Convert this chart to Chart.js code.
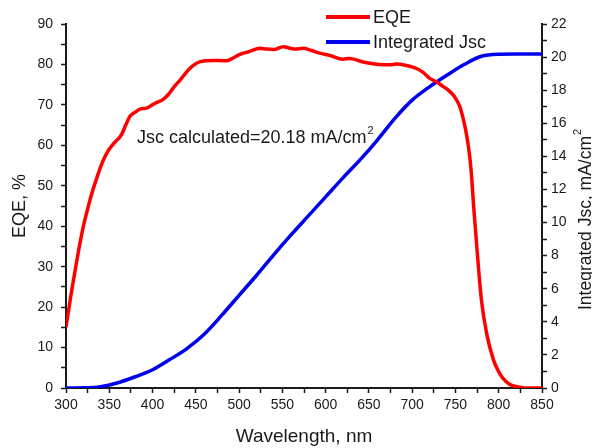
<!DOCTYPE html>
<html>
<head>
<meta charset="utf-8">
<script src="https://cdn.jsdelivr.net/npm/chart.js@4"></script>
<style>
  html, body { margin: 0; padding: 0; background: #fff; }
</style>
</head>
<body>
<canvas id="eqeChart" width="592" height="448"></canvas>
<script>
// EQE curve (wavelength nm, EQE %)
const eqeWl = [300, 305, 310, 315, 320, 325, 330, 336, 342, 348, 355, 364, 369, 374, 380, 386, 393, 398, 403, 412, 418, 424, 432, 440, 446, 455, 470, 486, 493, 501, 512, 524, 532, 540, 551, 559, 565, 574, 583, 593, 605, 620, 628, 640, 651, 662, 674, 682, 692, 705, 713, 720, 728, 736, 742, 749, 755, 761, 765, 768, 771, 775, 780, 786, 794, 800, 805, 812, 821, 830, 850];
const eqeVal = [15, 22, 28.4, 34.5, 39.9, 44.3, 48.2, 52.2, 55.8, 58.4, 60.4, 62.6, 65, 67.2, 68.2, 69, 69.2, 69.8, 70.4, 71.3, 72.5, 74.2, 76.2, 78.3, 79.6, 80.7, 81, 80.9, 81.6, 82.5, 83.2, 84, 83.8, 83.7, 84.4, 84, 83.8, 84, 83.5, 82.8, 82.2, 81.3, 81.5, 80.8, 80.3, 80.0, 79.9, 80.1, 79.8, 79.0, 78.0, 76.6, 75.7, 74.5, 73.6, 72.0, 69.6, 64.6, 59.7, 54, 45, 34, 21.8, 13.5, 6.9, 4, 2.4, 1, 0.3, 0, 0];

// Integrated Jsc (wavelength nm, mA/cm2)
const jscWl = [300, 320, 340, 360, 380, 400, 420, 440, 460, 480, 500, 520, 540, 560, 580, 600, 620, 640, 660, 680, 700, 720, 740, 760, 780, 800, 820, 850];
const jscVal = [0, 0.01, 0.08, 0.32, 0.68, 1.1, 1.72, 2.4, 3.27, 4.4, 5.6, 6.8, 8.05, 9.25, 10.4, 11.55, 12.7, 13.8, 15.0, 16.3, 17.4, 18.2, 18.9, 19.55, 20.05, 20.17, 20.18, 20.18];

const xTicks = [300, 850, 50];
const eqeTicks = [0, 90, 10];
const jscTicks = [0, 22, 2];
const jscNote = 'Jsc calculated=20.18 mA/cm';

const toXY = (xs, ys) => xs.map((x, i) => ({ x: x, y: ys[i] }));

const FONT = 'Liberation Sans, Arial, sans-serif';
const INK = '#1a1a1a';

// legend, note text and right axis title
const extras = {
    id: 'extras',
    afterDraw(chart) {
        const c = chart.ctx;
        c.save();
        // legend
        chart.data.datasets.forEach((ds, i) => {
            const y = 17 + i * 25;
            c.strokeStyle = ds.borderColor;
            c.lineWidth = 4;
            c.beginPath();
            c.moveTo(326, y);
            c.lineTo(370, y);
            c.stroke();
            c.fillStyle = INK;
            c.font = '18px ' + FONT;
            c.textBaseline = 'middle';
            c.textAlign = 'left';
            c.fillText(ds.label, 373, y + 1);
        });
        // note
        c.font = '18px ' + FONT;
        c.textBaseline = 'alphabetic';
        c.fillText(jscNote, 137, 143);
        const w = c.measureText(jscNote).width;
        c.font = '11px ' + FONT;
        c.fillText('2', 137 + w + 1, 134);
        // right axis title
        c.translate(586, 220);
        c.rotate(-Math.PI / 2);
        c.font = '17.5px ' + FONT;
        const t = 'Integrated Jsc, mA/cm';
        const tw = c.measureText(t).width;
        c.textAlign = 'left';
        c.textBaseline = 'middle';
        c.fillText(t, -tw / 2 - 3, 0);
        c.font = '11px ' + FONT;
        c.fillText('2', tw / 2 - 2, -8);
        c.restore();
    }
};

const axisGrid = {
    display: true,
    drawOnChartArea: false,
    drawTicks: true,
    tickLength: 5,
    tickColor: INK,
    tickWidth: 1.5,
};
const axisBorder = { display: true, color: INK, width: 2 };

const ctx = document.getElementById('eqeChart').getContext('2d');
const eqeChart = new Chart(ctx, {
    type: 'line',
    data: {
        datasets: [
            {
                label: 'EQE',
                data: toXY(eqeWl, eqeVal),
                borderColor: '#ff0000',
                backgroundColor: '#ff0000',
                borderWidth: 3.5,
                pointRadius: 0,
                cubicInterpolationMode: 'monotone',
                yAxisID: 'y',
            },
            {
                label: 'Integrated Jsc',
                data: toXY(jscWl, jscVal),
                borderColor: '#0000f0',
                backgroundColor: '#0000f0',
                borderWidth: 3.5,
                pointRadius: 0,
                cubicInterpolationMode: 'monotone',
                yAxisID: 'y2',
            },
        ],
    },
    options: {
        responsive: false,
        animation: false,
        events: [],
        layout: { padding: { top: 24, left: 0, right: 0, bottom: 0 } },
        plugins: { legend: { display: false }, tooltip: { enabled: false } },
        scales: {
            x: {
                type: 'linear',
                min: xTicks[0],
                max: xTicks[1],
                grid: axisGrid,
                border: axisBorder,
                ticks: {
                    stepSize: xTicks[2] / 2,
                    autoSkip: false,
                    maxRotation: 0,
                    padding: 4,
                    color: INK,
                    font: { family: FONT, size: 14 },
                    callback: v => (v % xTicks[2] === 0 ? v : ''),
                },
                title: {
                    display: true,
                    text: 'Wavelength, nm',
                    color: INK,
                    font: { family: FONT, size: 19 },
                    padding: { top: 0, bottom: 0 },
                },
                afterFit(s) { s.height = 60; },
            },
            y: {
                position: 'left',
                min: eqeTicks[0],
                max: eqeTicks[1],
                grid: axisGrid,
                border: axisBorder,
                ticks: {
                    stepSize: eqeTicks[2] / 2,
                    autoSkip: false,
                    padding: 8,
                    color: INK,
                    font: { family: FONT, size: 14 },
                    callback: v => (v % eqeTicks[2] === 0 ? v : ''),
                },
                title: {
                    display: true,
                    text: 'EQE, %',
                    color: INK,
                    font: { family: FONT, size: 18 },
                    padding: { top: 9, bottom: 0 },
                },
                afterFit(s) { s.width = 66; },
            },
            y2: {
                position: 'right',
                min: jscTicks[0],
                max: jscTicks[1],
                grid: axisGrid,
                border: axisBorder,
                ticks: {
                    stepSize: jscTicks[2] / 2,
                    autoSkip: false,
                    padding: 4,
                    color: INK,
                    font: { family: FONT, size: 14 },
                    callback: v => (v % jscTicks[2] === 0 ? v : ''),
                },
                afterFit(s) { s.width = 50; },
            },
        },
    },
    plugins: [extras],
});
</script>
</body>
</html>
